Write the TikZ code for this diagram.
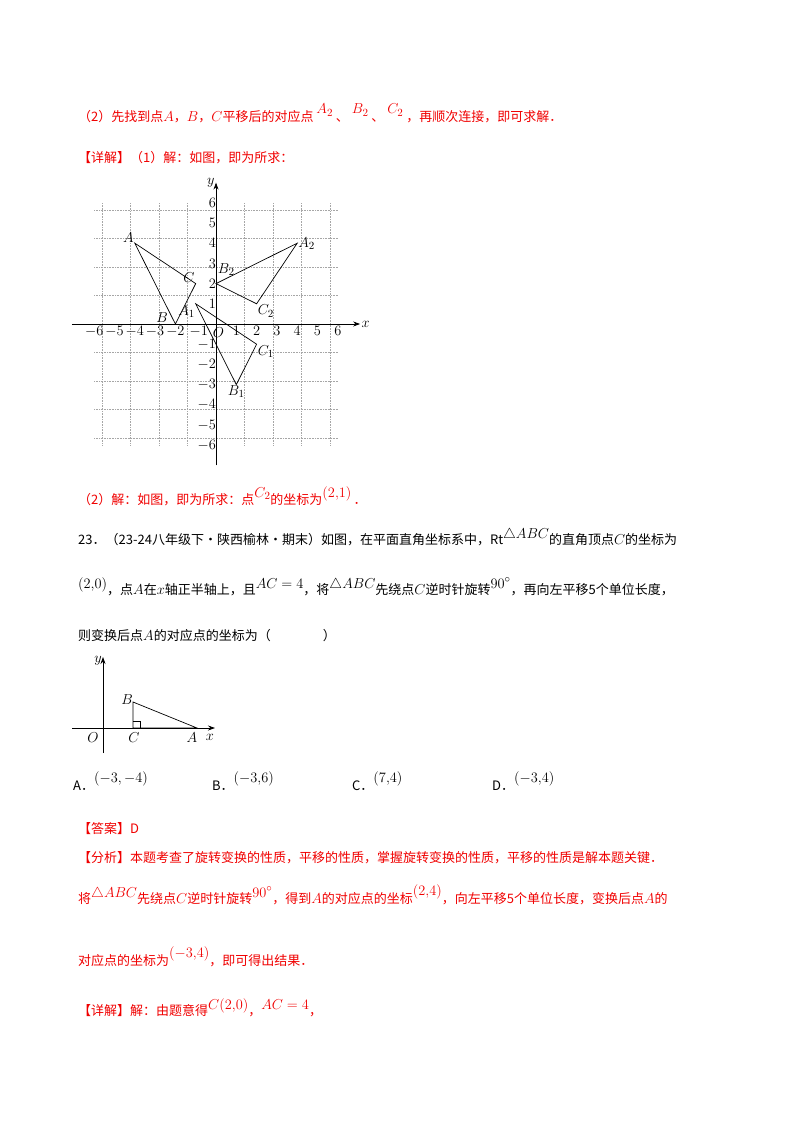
\documentclass[tikz,border=0pt]{standalone}
\usepackage{fontspec}
\setmainfont{Noto Sans CJK SC}
\usetikzlibrary{arrows.meta}
\definecolor{rd}{RGB}{240,0,0}
\newcommand{\mm}[2][6pt]{\raisebox{#1}{\fontsize{15}{17}\selectfont$#2$}}
\newcommand{\mi}[1]{{\fontsize{15}{17}\selectfont$#1$}}
\tikzset{txt/.style={anchor=base west,inner sep=0pt,font=\fontsize{13}{15}\selectfont},
 rt/.style={txt,text=rd},
 lbl/.style={inner sep=1pt,font=\fontsize{15}{17}\selectfont},
 tk/.style={inner sep=1pt,font=\fontsize{14}{16}\selectfont},
 ax/.style={-{Stealth[length=7pt,width=5pt]},line width=0.8pt},
 tri/.style={line width=0.7pt}}
\begin{document}
\begin{tikzpicture}[x=1pt,y=1pt]
\useasboundingbox (0,0) rectangle (800,-1132);
\node[rt] (l1) at (78,-121) {（2）先找到点\mi{A}，\mi{B}，\mi{C}平移后的对应点\ \mm[7pt]{A_2}\ 、\ \mm[7pt]{B_2}\ 、\ \mm[7pt]{C_2}\ ，再顺次连接，即可求解．};
\node[rt] (l2) at (78,-162) {【详解】（1）解：如图，即为所求：};
\begin{scope}[shift={(216,-324)},x=20.3pt,y=20.2pt]
\draw[gray!70,densely dotted,line width=0.6pt] (-6,-6) grid (6,6);
\draw[ax] (-7.1,0) -- (7.1,0) node[lbl,right] (xl) {$x$};
\draw[ax] (0,-7) -- (0,7) node[lbl,left] (yl) {$y$};
\foreach \i in {-6,...,-2,2,3,...,6}{\node[tk,below] (xt\i) at (\i,-0.05) {$\i$};}
\node[tk,below] (xtm1) at (-0.85,-0.05) {$-1$};
\node[tk,below] (xt1) at (1,-0.05) {$1$};
\foreach \i in {-6,...,-1,1,2,...,6}{\node[tk,left] (yt\i) at (0.05,\i) {$\i$};}
\node[lbl] (O) at (0.12,-0.4) {$O$};
\coordinate (A) at (-4,4); \coordinate (B) at (-2,0); \coordinate (C) at (-1,2);
\coordinate (A1) at (-1,1); \coordinate (B1) at (1,-3); \coordinate (C1) at (2,-1);
\coordinate (A2) at (4,4); \coordinate (B2) at (0,2); \coordinate (C2) at (2,1);
\draw[tri] (A) -- (B) -- (C) -- cycle;
\draw[tri] (A1) -- (B1) -- (C1) -- cycle;
\draw[tri] (A2) -- (B2) -- (C2) -- cycle;
\node[lbl,above left] at (A) {$A$};
\node[lbl] at (-2.65,0.3) {$B$};
\node[lbl,above left] at (C) {$C$};
\node[lbl] at (-1.45,0.6) {$A_1$};
\node[lbl,below] at (B1) {$B_1$};
\node[lbl,below right] at (C1) {$C_1$};
\node[lbl,right] at (A2) {$A_2$};
\node[lbl] at (0.5,2.7) {$B_2$};
\node[lbl,below right] at (C2) {$C_2$};
\end{scope}
\node[rt] (l3) at (78,-504) {（2）解：如图，即为所求：点\mm[7pt]{C_2}的坐标为\mm[7pt]{(2{,}1)}\,．};
\node[txt] (l4) at (78,-544) {23．（23-24八年级下·陕西榆林·期末）如图，在平面直角坐标系中，Rt\mm{\triangle ABC}的直角顶点\mi{C}的坐标为};
\node[txt] (l5) at (78,-594) {\mm{(2{,}0)}，点\mi{A}在\mi{x}轴正半轴上，且\mm{AC=4}，将\mm{\triangle ABC}先绕点\mi{C}逆时针旋转\mm{90^\circ}，再向左平移5个单位长度，};
\node[txt] (l6) at (78,-640) {则变换后点\mi{A}的对应点的坐标为（\hspace{4em}）};
\coordinate (sc) at (133,-728); \coordinate (sa) at (197,-728); \coordinate (sb) at (133,-702);
\draw[ax] (72,-728) -- (215,-728);
\draw[ax] (103,-753) -- (103,-657);
\node[lbl,left] (syl) at (103,-661) {$y$};
\node[lbl] (sxl) at (210,-737) {$x$};
\draw[tri] (sb) -- (sc) -- (sa) -- cycle;
\draw[line width=0.5pt] (133,-721) -- (140,-721) -- (140,-728);
\node[lbl] (sO) at (93,-738) {$O$};
\node[lbl] (sC) at (134,-738) {$C$};
\node[lbl] (sA) at (192,-738) {$A$};
\node[lbl,left] (sB) at (134,-700) {$B$};
\node[txt] (oa) at (73,-790) {A．\mm[8pt]{(-3,-4)}};
\node[txt] (ob) at (212,-790) {B．\mm[8pt]{(-3{,}6)}};
\node[txt] (oc) at (352,-790) {C．\mm[8pt]{(7{,}4)}};
\node[txt] (od) at (492,-790) {D．\mm[8pt]{(-3{,}4)}};
\node[rt] (l7) at (78,-833) {【答案】D};
\node[rt] (l8) at (78,-862) {【分析】本题考查了旋转变换的性质，平移的性质，掌握旋转变换的性质，平移的性质是解本题关键．};
\node[rt] (l9) at (78,-903) {将\mm{\triangle ABC}先绕点\mi{C}逆时针旋转\mm{90^\circ}，得到\mi{A}的对应点的坐标\mm[8pt]{(2{,}4)}，向左平移5个单位长度，变换后点\mi{A}的};
\node[rt] (l10) at (78,-965) {对应点的坐标为\mm[8pt]{(-3{,}4)}，即可得出结果．};
\node[rt] (l11) at (78,-1015) {【详解】解：由题意得\mm{C(2{,}0)}，\mm{AC=4}，};
\end{tikzpicture}
\end{document}
